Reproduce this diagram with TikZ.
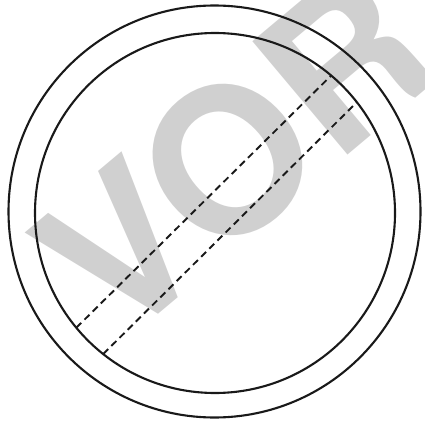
\documentclass[tikz,border=0pt]{standalone}
\usepackage{fontspec}
\setmainfont{TeX Gyre Heros}
\usetikzlibrary{calc}
\definecolor{wmgray}{RGB}{208,208,208}
\begin{document}
\begin{tikzpicture}[x=1pt,y=1pt,
  ring/.style={line width=2.1pt, draw=black!90},
  chord/.style={line width=1.9pt, draw=black!90, dash pattern=on 7pt off 4.5pt},
  watermark/.style={text=wmgray, inner sep=0pt, rotate=40, anchor=base west,
    font=\fontsize{203}{203}\selectfont\bfseries}]
\useasboundingbox (0,0) rectangle (425,421);
\node[watermark] (wm) at (116,71) {VOR};
\coordinate (co) at (214.5,209.5);
\coordinate (ci) at (215,208);
\draw[ring] (co) circle[radius=206];
\draw[ring] (ci) circle[radius=180];
\coordinate (a1) at ($(ci)+(219.6:180)$);
\coordinate (b1) at ($(ci)+(49.8:180)$);
\coordinate (a2) at ($(ci)+(231.6:180)$);
\coordinate (b2) at ($(ci)+(38:180)$);
\draw[chord] (a1) -- (b1);
\draw[chord] (a2) -- (b2);
\end{tikzpicture}
\end{document}
